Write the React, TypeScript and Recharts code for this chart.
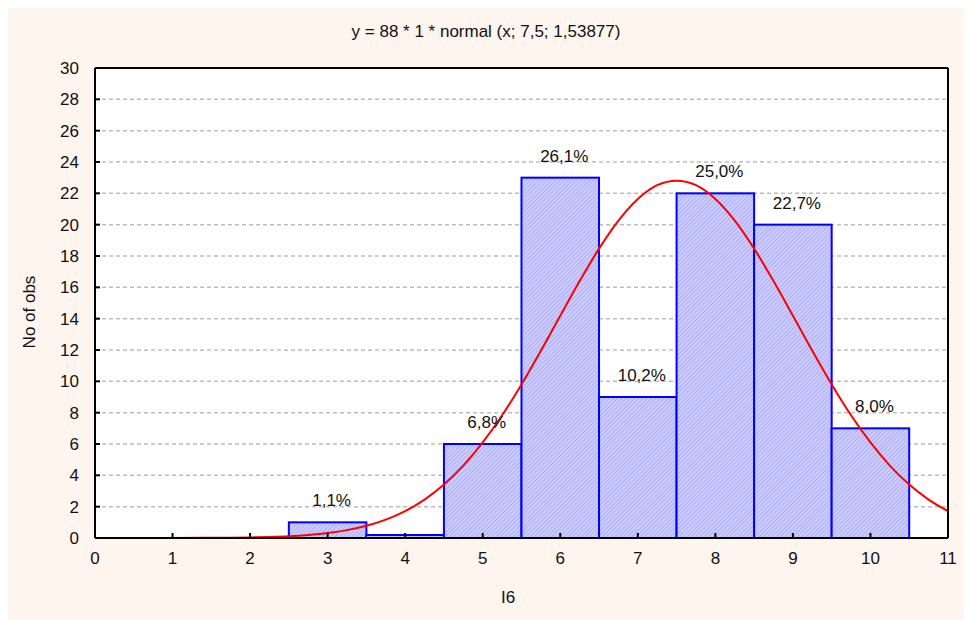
import {
  ComposedChart,
  Bar,
  Line,
  XAxis,
  YAxis,
  CartesianGrid,
  LabelList,
} from "recharts";

// histogram bins (class centres) and observed counts
const binCenters = [3, 4, 5, 6, 7, 8, 9, 10];
const binCounts = [1, 0, 6, 23, 9, 22, 20, 7];

// fitted normal curve, sampled along x
const curveX = [
  0, 0.5, 1, 1.5, 1.75, 2, 2.25, 2.5, 2.75, 3, 3.25, 3.5, 3.75, 4, 4.25, 4.5,
  4.75, 5, 5.25, 5.5, 5.75, 6, 6.25, 6.5, 6.75, 7, 7.25, 7.5, 7.75, 8, 8.25,
  8.5, 8.75, 9, 9.25, 9.5, 9.75, 10, 10.25, 10.5, 10.75, 11,
];
const curveY = [
  0.0002, 0.0007, 0.003, 0.011, 0.021, 0.038, 0.068, 0.116, 0.195, 0.317,
  0.503, 0.778, 1.171, 1.717, 2.452, 3.411, 4.62, 6.097, 7.833, 9.804, 11.95,
  14.19, 16.4, 18.47, 20.26, 21.64, 22.52, 22.81, 22.52, 21.64, 20.26, 18.47,
  16.4, 14.19, 11.95, 9.804, 7.833, 6.097, 4.62, 3.411, 2.452, 1.717,
];

const xTicks = [0, 1, 2, 3, 4, 5, 6, 7, 8, 9, 10, 11];
const yTicks = [0, 2, 4, 6, 8, 10, 12, 14, 16, 18, 20, 22, 24, 26, 28, 30];

const title = "y = 88 * 1 * normal (x; 7,5; 1,53877)";
const xLabel = "I6";
const yLabel = "No of obs";

const total = binCounts.reduce((a, b) => a + b, 0);
const bars = binCenters.map((x, i) => ({ x, count: binCounts[i] }));
const curve = curveX.map((x, i) => ({ x, fit: curveY[i] }));

const W = 965;
const H = 614;
const Y_AXIS_W = 88;
const X_AXIS_H = 83;
const M_TOP = 61;
const M_RIGHT = 24;
const plotW = W - Y_AXIS_W - M_RIGHT;
const binWidth = plotW / (xTicks[xTicks.length - 1] - xTicks[0]);

const FONT = '"Liberation Sans", Arial, sans-serif';
const TEXT = "#111";
const FRAME = { stroke: "#000", strokeWidth: 2 };

const XTick = ({ x, y, payload }: any) => (
  <g>
    <line x1={x} y1={y} x2={x} y2={y - 5} stroke="#000" strokeWidth={2} />
    <text x={x} y={y + 26} textAnchor="middle" fontSize={17} fill={TEXT} fontFamily={FONT}>
      {payload.value}
    </text>
  </g>
);

const YTick = ({ x, y, payload }: any) => (
  <g>
    <line x1={x} y1={y} x2={x + 5} y2={y} stroke="#000" strokeWidth={2} />
    <text x={x - 16} y={y + 6} textAnchor="end" fontSize={17} fill={TEXT} fontFamily={FONT}>
      {payload.value}
    </text>
  </g>
);

// bars span the full class interval, centred on the class value
const BinShape = ({ x, y, width, height, fill, stroke, strokeWidth }: any) => {
  const cx = x + width / 2;
  return (
    <rect
      x={cx - binWidth / 2}
      y={y}
      width={binWidth}
      height={height}
      fill={fill}
      stroke={stroke}
      strokeWidth={strokeWidth}
    />
  );
};

const pct = (v: any) => {
  const n = Number(v);
  if (!n) return "";
  return ((n / total) * 100).toFixed(1).replace(".", ",") + "%";
};

export default function App() {
  return (
    <div
      style={{
        position: "relative",
        margin: -1,
        width: W,
        height: H,
        background: "#fdf5ee",
        fontFamily: FONT,
        color: TEXT,
      }}
    >
      <div
        style={{
          position: "absolute",
          left: 0,
          top: 15,
          width: 958,
          textAlign: "center",
          fontSize: 17,
          lineHeight: "20px",
        }}
      >
        {title}
      </div>
      <div
        style={{
          position: "absolute",
          left: 461,
          top: 581,
          width: 80,
          textAlign: "center",
          fontSize: 17,
          lineHeight: "20px",
        }}
      >
        {xLabel}
      </div>
      <div
        style={{
          position: "absolute",
          left: 23 - 60,
          top: 305 - 10,
          width: 120,
          textAlign: "center",
          fontSize: 17,
          lineHeight: "20px",
          transform: "rotate(-90deg)",
        }}
      >
        {yLabel}
      </div>
      <ComposedChart
        width={W}
        height={H}
        data={bars}
        margin={{ top: M_TOP, right: M_RIGHT, left: 0, bottom: 0 }}
        style={{ position: "absolute", left: 0, top: 0 }}
      >
        <defs>
          <pattern
            id="hatch"
            width="3"
            height="3"
            patternUnits="userSpaceOnUse"
            patternTransform="rotate(45)"
          >
            <rect width="3" height="3" fill="#cdcdfe" />
            <line x1="0" y1="0" x2="0" y2="3" stroke="#a2a2f6" strokeWidth={1.5} />
          </pattern>
        </defs>
        <CartesianGrid
          vertical={false}
          stroke="#bdbdbd"
          strokeDasharray="4 3"
          strokeWidth={1.5}
          fill="#fff"
        />
        <XAxis
          dataKey="x"
          type="number"
          domain={[0, 11]}
          ticks={xTicks}
          interval={0}
          height={X_AXIS_H}
          tickSize={0}
          tickMargin={0}
          tickLine={false}
          tick={<XTick />}
          axisLine={FRAME}
        />
        <XAxis
          xAxisId="curve"
          dataKey="x"
          type="number"
          domain={[0, 11]}
          hide
        />
        <XAxis
          xAxisId="top"
          orientation="top"
          type="number"
          domain={[0, 11]}
          ticks={xTicks}
          interval={0}
          mirror
          height={1}
          tick={false}
          tickSize={5}
          tickLine={FRAME}
          axisLine={FRAME}
        />
        <YAxis
          type="number"
          domain={[0, 30]}
          ticks={yTicks}
          interval={0}
          width={Y_AXIS_W}
          tickSize={0}
          tickMargin={0}
          tickLine={false}
          tick={<YTick />}
          axisLine={FRAME}
        />
        <YAxis
          yAxisId="right"
          orientation="right"
          type="number"
          domain={[0, 30]}
          ticks={yTicks}
          interval={0}
          mirror
          width={1}
          tick={false}
          tickSize={5}
          tickLine={FRAME}
          axisLine={FRAME}
        />
        <Bar
          dataKey="count"
          fill="url(#hatch)"
          stroke="#0000ff"
          strokeWidth={2}
          minPointSize={3}
          shape={<BinShape />}
          isAnimationActive={false}
        >
          <LabelList
            dataKey="count"
            position="top"
            offset={16}
            dx={4}
            formatter={pct}
            fontSize={17}
            fill={TEXT}
            fontFamily={FONT}
          />
        </Bar>
        <Line
          xAxisId="curve"
          data={curve}
          dataKey="fit"
          type="monotone"
          stroke="#ff0000"
          strokeWidth={2}
          dot={false}
          activeDot={false}
          isAnimationActive={false}
        />
      </ComposedChart>
    </div>
  );
}
